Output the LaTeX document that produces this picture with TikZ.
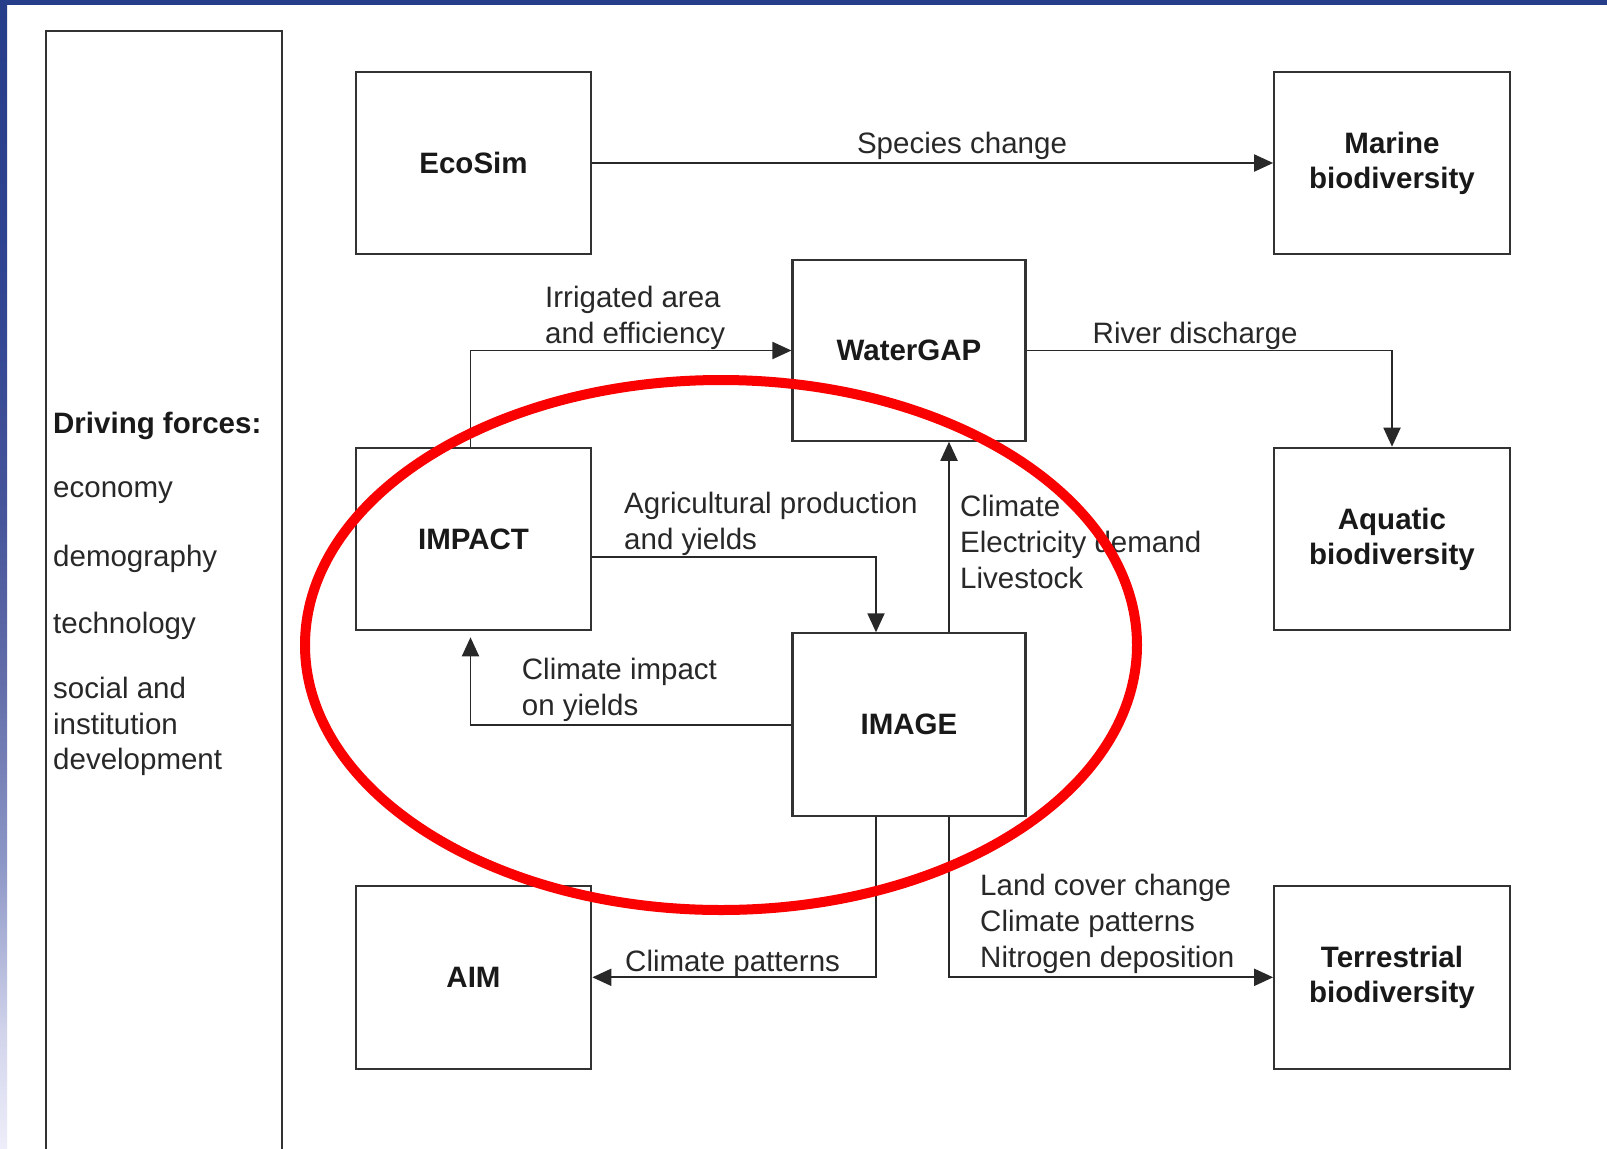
\documentclass[tikz,border=0pt]{standalone}
\usepackage{fontspec}
\setmainfont{Liberation Sans}
\usetikzlibrary{arrows.meta}
\definecolor{navy}{RGB}{38,61,138}
\definecolor{sA}{RGB}{238,238,250}
\definecolor{sB}{RGB}{210,212,235}
\definecolor{sC}{RGB}{140,150,198}
\definecolor{sD}{RGB}{100,110,170}
\definecolor{sE}{RGB}{70,85,155}
\definecolor{sF}{RGB}{48,68,145}
\definecolor{boxc}{RGB}{50,50,50}
\definecolor{linec}{RGB}{40,40,40}
\definecolor{txtc}{RGB}{40,40,40}
\definecolor{ringred}{RGB}{250,0,0}
\pgfdeclareverticalshading{leftstrip}{100bp}{color(0bp)=(sA); color(25bp)=(sA); color(30bp)=(sB); color(37.5bp)=(sC); color(45bp)=(sD); color(52.5bp)=(sE); color(62.5bp)=(sF); color(75bp)=(navy); color(100bp)=(navy)}
\tikzset{
  boxline/.style={draw=boxc, line width=2.1pt},
  modelbox/.style={boxline, minimum width=235.6pt, minimum height=182.5pt, inner sep=0pt, align=center,
    text=black!90, font=\fontsize{29.5}{35}\selectfont\bfseries},
  conn/.style={draw=linec, line width=1.9pt, -{Triangle[length=19pt,width=17pt]}},
  lbl/.style={anchor=base west, inner sep=0pt, align=left, text=txtc, font=\fontsize{29.5}{36}\selectfont},
  ring/.style={draw=ringred, line width=10pt}
}
\begin{document}
\begin{tikzpicture}[x=1pt,y=-1pt]
\useasboundingbox (0,0) rectangle (1607,1149);
\fill[white] (0,0) rectangle (1607,1149);
\shade[shading=leftstrip] (0,0) rectangle (7,1149);
\fill[navy] (0,0) rectangle (1607,5);

% driving forces panel
\draw[boxline] (46,1152) -- (46,31) -- (282,31) -- (282,1152);
\node[lbl, font=\fontsize{29.5}{36}\selectfont\bfseries, text=black!90] (drv) at (53,433) {Driving forces:};
\node[lbl] (economy) at (53,497) {economy};
\node[lbl] (demography) at (53,566.5) {demography};
\node[lbl] (technology) at (53,633) {technology};
\node[lbl, font=\fontsize{29.5}{35.3}\selectfont] (social) at (53,769.5) {social and\\institution\\development};

% model boxes
\node[modelbox] (EcoSim) at (473.5,163) {EcoSim};
\node[modelbox] (Marine) at (1392,163) {Marine\\biodiversity};
\node[modelbox, minimum width=233pt, minimum height=180.4pt] (WaterGAP) at (909,350.5) {WaterGAP};
\node[modelbox] (IMPACT) at (473.5,539) {IMPACT};
\node[modelbox] (Aquatic) at (1392,539) {Aquatic\\biodiversity};
\node[modelbox, minimum width=233pt] (IMAGE) at (909,724.6) {IMAGE};
\node[modelbox] (AIM) at (473.5,977.3) {AIM};
\node[modelbox] (Terrestrial) at (1392,977.3) {Terrestrial\\biodiversity};

% connectors
\draw[conn] (EcoSim) -- (Marine);
\draw[conn] ([xshift=-3pt]IMPACT.north) |- (WaterGAP.west);
\draw[conn] (WaterGAP.east) -| (Aquatic.north);
\draw[conn] ([yshift=-18pt]IMPACT.east) -| ([xshift=-33pt]IMAGE.north);
\draw[conn] ([xshift=40pt]IMAGE.north) -- ([xshift=40pt]WaterGAP.south);
\draw[conn, shorten >=6pt] (IMAGE.west) -| ([xshift=-3pt]IMPACT.south);
\draw[conn] ([xshift=-33pt]IMAGE.south) |- (AIM.east);
\draw[conn] ([xshift=40pt]IMAGE.south) |- (Terrestrial.west);

% connector labels (base = baseline of last line)
\node[lbl, anchor=base] (lspecies) at (962,153.5) {Species change};
\node[lbl] (lirr) at (545,343) {Irrigated area\\and efficiency};
\node[lbl] (lriver) at (1092.5,343) {River discharge};
\node[lbl] (lagri) at (624,549) {Agricultural production\\and yields};
\node[lbl] (lclim) at (960,588) {Climate\\Electricity demand\\Livestock};
\node[lbl] (limpact) at (521.7,715) {Climate impact\\on yields};
\node[lbl] (lland) at (980,967) {Land cover change\\Climate patterns\\Nitrogen deposition};
\node[lbl] (lpatt) at (625,971) {Climate patterns};

% red ring
\draw[ring] (721,645) ellipse [x radius=416, y radius=265];
\end{tikzpicture}
\end{document}
